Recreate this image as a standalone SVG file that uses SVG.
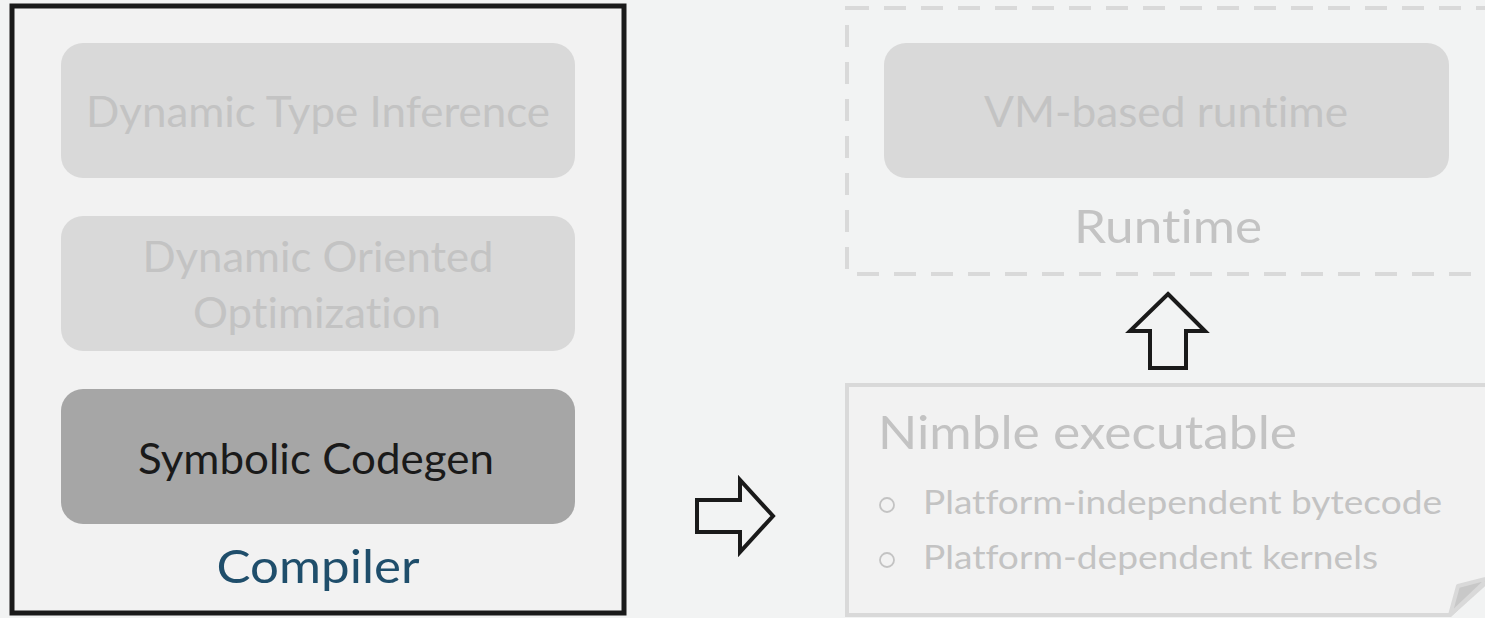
<svg xmlns="http://www.w3.org/2000/svg" width="1485" height="618" viewBox="0 0 1485 618">
<style>
text{font-family:Lato,"Liberation Sans","DejaVu Sans",sans-serif;font-variant-ligatures:none}
.box{fill:#d9d9d9}
.dim{fill:#c3c3c3;font-size:42px}
.arrow{fill:#f2f3f3;stroke:#1a1a1a;stroke-width:4;stroke-linejoin:miter}
</style>
<rect width="1485" height="618" fill="#f2f3f3"/>
<g id="compiler">
<rect x="12" y="6" width="612" height="607" fill="#f2f2f2" stroke="#1a1a1a" stroke-width="5"/>
<text x="318" y="583" text-anchor="middle" font-size="47" fill="#1f4e6b" textLength="203" lengthAdjust="spacingAndGlyphs">Compiler</text>
</g>
<g id="dti">
<rect class="box" x="61" y="43" width="514" height="135" rx="22"/>
<text class="dim" x="318" y="127" text-anchor="middle" textLength="464" lengthAdjust="spacingAndGlyphs">Dynamic Type Inference</text>
</g>
<g id="doo">
<rect class="box" x="61" y="216" width="514" height="135" rx="22"/>
<text class="dim" x="318" y="272" text-anchor="middle" textLength="351" lengthAdjust="spacingAndGlyphs">Dynamic Oriented</text>
<text class="dim" x="317" y="328" text-anchor="middle" textLength="248" lengthAdjust="spacingAndGlyphs">Optimization</text>
</g>
<g id="codegen">
<rect x="61" y="389" width="514" height="135" rx="22" fill="#a6a6a6"/>
<text x="316" y="474" text-anchor="middle" font-size="42" fill="#1a1a1a" textLength="356" lengthAdjust="spacingAndGlyphs">Symbolic Codegen</text>
</g>
<g id="runtime">
<rect x="847" y="8" width="660" height="266" fill="none" stroke="#d9d9d9" stroke-width="4" stroke-dasharray="22,15"/>
<text x="1168" y="243" text-anchor="middle" font-size="47" fill="#c3c3c3" textLength="188" lengthAdjust="spacingAndGlyphs">Runtime</text>
</g>
<g id="vm">
<rect class="box" x="884" y="43" width="565" height="135" rx="22"/>
<text class="dim" x="1166" y="127" text-anchor="middle" textLength="364" lengthAdjust="spacingAndGlyphs">VM-based runtime</text>
</g>
<g id="nimble">
<path d="M847,385 H1489 V580 L1450,615 H847 Z" fill="#f2f2f2" stroke="#d9d9d9" stroke-width="4"/>
<path d="M1450,615 L1458,586 L1489,578 Z" fill="#c8c8c8" stroke="#d9d9d9" stroke-width="4" stroke-linejoin="round"/>
<text x="878" y="449" font-size="47" fill="#c3c3c3" textLength="419" lengthAdjust="spacingAndGlyphs">Nimble executable</text>
<circle cx="887" cy="505" r="7" fill="none" stroke="#c3c3c3" stroke-width="1.8"/>
<text x="923" y="514" font-size="33" fill="#c3c3c3" textLength="519" lengthAdjust="spacingAndGlyphs">Platform-independent bytecode</text>
<circle cx="887" cy="560" r="7" fill="none" stroke="#c3c3c3" stroke-width="1.8"/>
<text x="923" y="569" font-size="33" fill="#c3c3c3" textLength="455" lengthAdjust="spacingAndGlyphs">Platform-dependent kernels</text>
</g>
<g id="connectors">
<path class="arrow" d="M697,500 H740 V480 L773,516 L740,552 V532 H697 Z"/>
<path class="arrow" d="M1168,294 L1205,331 H1186 V368 H1150 V331 H1130 Z"/>
</g>
</svg>
